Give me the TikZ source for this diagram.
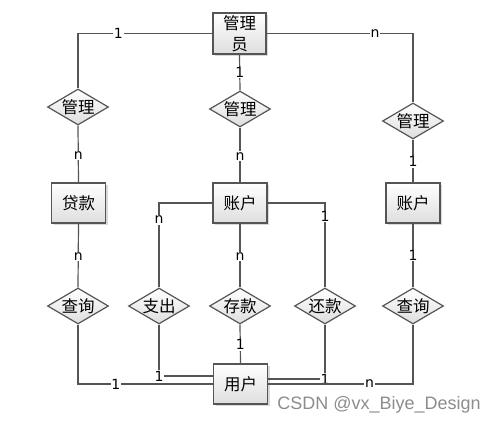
\documentclass[tikz,border=0pt]{standalone}
\usepackage{fontspec}
\setmainfont{Noto Sans CJK SC}
\newfontfamily\labfont{DejaVu Sans}
\newfontfamily\wmfont{Liberation Sans}
\usetikzlibrary{shapes.geometric,shadows,calc}
\definecolor{linec}{HTML}{555555}
\definecolor{boxbot}{HTML}{DEDEDE}
\begin{document}
\begin{tikzpicture}[x=1pt,y=-1pt,
  ent/.style={draw=linec, line width=1.2pt, top color=white, bottom color=boxbot,
    minimum width=54pt, minimum height=40pt, inner sep=1pt, align=center,
    font=\fontsize{16.5}{21}\selectfont,
    drop shadow={shadow xshift=2pt, shadow yshift=-2pt, fill=black, opacity=0.15}},
  rel/.style={diamond, draw=linec, line width=1.2pt, top color=white, bottom color=boxbot,
    minimum width=61pt, minimum height=36pt, inner sep=0pt, aspect=1.7,
    font=\fontsize{16.5}{18}\selectfont},
  lab/.style={fill=white, inner sep=0.8pt, text=black, font=\labfont\fontsize{14}{16}\selectfont},
  conn/.style={draw=linec, line width=1.2pt}]
\useasboundingbox (0,0) rectangle (496,425);
% entities
\node[ent, minimum width=53pt, minimum height=41pt] (admin) at (239.5,33.5) {管理\\员};
\node[ent] (loan) at (78.5,203) {贷款};
\node[ent] (acc) at (240,203) {账户};
\node[ent] (acc2) at (413,203) {账户};
\node[ent] (user) at (240.5,384) {用户};
% relations
\node[rel] (r1) at (78,107) {管理};
\node[rel] (r2) at (240,109) {管理};
\node[rel] (r3) at (413,121) {管理};
\node[rel] (q1) at (78,306) {查询};
\node[rel] (pay) at (159,306) {支出};
\node[rel] (dep) at (240,306) {存款};
\node[rel] (ret) at (325,306) {还款};
\node[rel] (q2) at (413,306) {查询};
% connectors
\draw[conn] (admin.west) -| node[lab, pos=0.35] {1} (r1.north);
\draw[conn] (admin.east) -| node[lab, pos=0.37] {n} (r3.north);
\draw[conn] (admin.south) -- node[lab, pos=0.5] {1} (r2.north);
\draw[conn] (r1.south) -- node[lab, pos=0.53] {n} (loan.north);
\draw[conn] (loan.south) -- node[lab, pos=0.52] {n} (q1.north);
\draw[conn] (r2.south) -- node[lab, pos=0.52] {n} (acc.north);
\draw[conn] (acc.south) -- node[lab, pos=0.52] {n} (dep.north);
\draw[conn] (r3.south) -- node[lab, pos=0.52] {1} (acc2.north);
\draw[conn] (acc2.south) -- node[lab, pos=0.5] {1} (q2.north);
\draw[conn] (acc.west) -| node[lab, pos=0.6] {n} (pay.north);
\draw[conn] (acc.east) -| node[lab, pos=0.58] {1} (ret.north);
\draw[conn] (dep.south) -- node[lab, pos=0.52] {1} (user.north);
\draw[conn] (q1.south) |- node[lab, pos=0.64] {1} (user.west);
\draw[conn] (pay.south) |- node[lab, pos=0.5] {1} ([yshift=8pt]user.west);
\draw[conn] (ret.south) |- node[lab, pos=0.5] {1} ([yshift=5pt]user.east);
\draw[conn] (q2.south) |- node[lab, pos=0.65] {n} (user.east);
% watermark
\node[text=black!45, font=\wmfont\fontsize{18}{20}\selectfont, inner sep=0pt] (wm) at (379,405) {CSDN @vx\_Biye\_Design};
\end{tikzpicture}
\end{document}
